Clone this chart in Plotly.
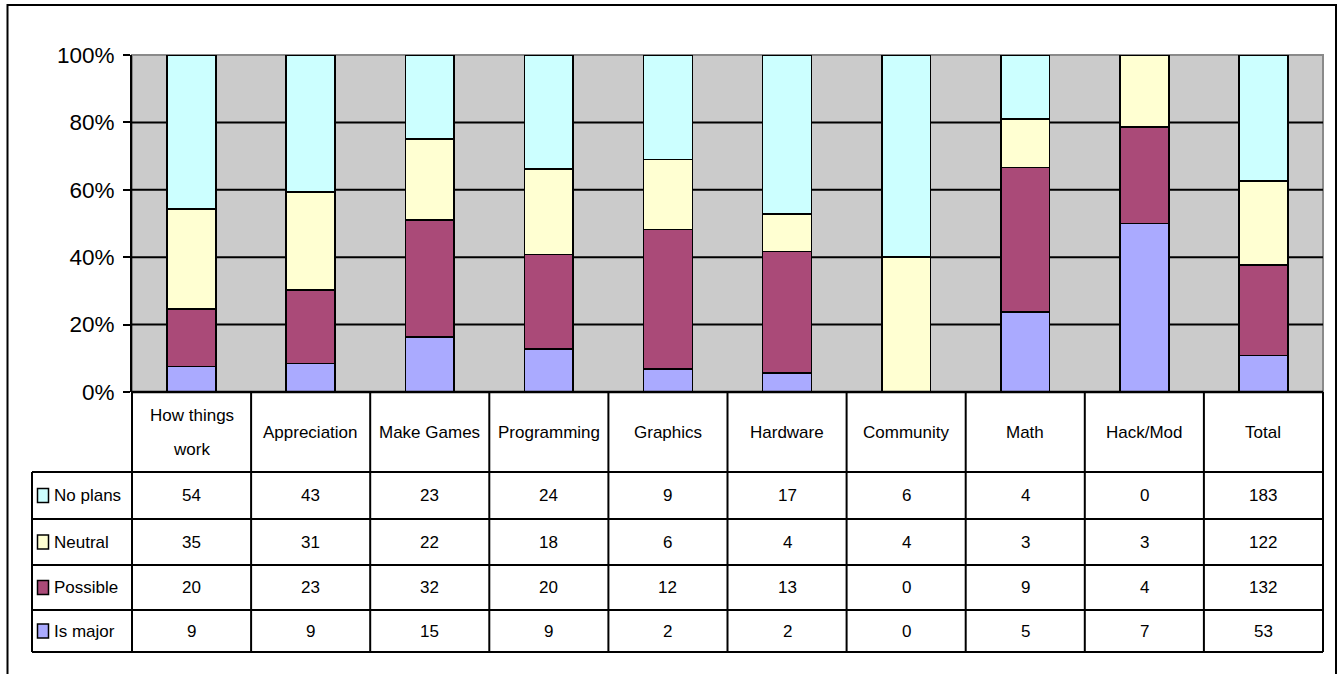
import plotly.graph_objects as go

categories = ["How things work", "Appreciation", "Make Games", "Programming", "Graphics",
              "Hardware", "Community", "Math", "Hack/Mod", "Total"]
header_labels = ["How things<br>work", "Appreciation", "Make Games", "Programming", "Graphics",
                 "Hardware", "Community", "Math", "Hack/Mod", "Total"]
series_names = ["No plans", "Neutral", "Possible", "Is major"]
no_plans = [54, 43, 23, 24, 9, 17, 6, 4, 0, 183]
neutral = [35, 31, 22, 18, 6, 4, 4, 3, 3, 122]
possible = [20, 23, 32, 20, 12, 13, 0, 9, 4, 132]
is_major = [9, 9, 15, 9, 2, 2, 0, 5, 7, 53]
y_ticks = [0, 20, 40, 60, 80, 100]

colors = {"No plans": "#CCFFFF", "Neutral": "#FFFFD2", "Possible": "#AA4A78", "Is major": "#AAAAFF"}
values = {"No plans": no_plans, "Neutral": neutral, "Possible": possible, "Is major": is_major}

W, H = 1338, 674
L, R, T, B = 132, 1323, 55, 392
FONT = "Liberation Sans, Arial"
TS = 17


def px_x(p):
    return (p - L) / (R - L)


def px_y(p):
    return (B - p) / (B - T)


fig = go.Figure()
for name in ["Is major", "Possible", "Neutral", "No plans"]:
    fig.add_trace(go.Bar(
        x=categories, y=values[name], name=name,
        marker=dict(color=colors[name], line=dict(color="black", width=1.6)),
        width=0.41, hoverinfo="skip",
    ))

shapes = []
shapes.append(dict(type="rect", xref="x domain", yref="y domain", x0=0, x1=1, y0=0, y1=1,
                   line=dict(color="#8a8a8a", width=2), layer="below"))
for v in y_ticks[1:-1]:
    shapes.append(dict(type="line", xref="x domain", yref="y", x0=0, x1=1, y0=v, y1=v,
                       line=dict(color="black", width=2), layer="below"))

# outer chart border
shapes.append(dict(type="rect", xref="paper", yref="paper",
                   x0=px_x(7.5), x1=px_x(1336), y0=px_y(700), y1=px_y(5),
                   line=dict(color="black", width=2), fillcolor="rgba(0,0,0,0)"))

n = len(categories)
row_lines = [472, 519, 565, 610, 652]
header_top = 392
left_edge = 32

shapes.append(dict(type="line", xref="paper", yref="paper", x0=0, x1=1,
                   y0=px_y(header_top), y1=px_y(header_top), line=dict(color="black", width=2.5)))
for yl in row_lines:
    shapes.append(dict(type="line", xref="paper", yref="paper", x0=px_x(left_edge), x1=1,
                       y0=px_y(yl), y1=px_y(yl), line=dict(color="black", width=2)))
for i in range(n + 1):
    xp = i / n
    shapes.append(dict(type="line", xref="paper", yref="paper", x0=xp, x1=xp,
                       y0=px_y(row_lines[-1]), y1=px_y(header_top), line=dict(color="black", width=2)))
shapes.append(dict(type="line", xref="paper", yref="paper", x0=px_x(left_edge), x1=px_x(left_edge),
                   y0=px_y(row_lines[-1]), y1=px_y(row_lines[0]), line=dict(color="black", width=2)))

annotations = []
header_center = (header_top + row_lines[0]) / 2
line_gap = 34
for i, lab in enumerate(header_labels):
    parts = lab.split("<br>")
    k = len(parts)
    for j, part in enumerate(parts):
        yc = header_center + (j - (k - 1) / 2) * line_gap
        annotations.append(dict(x=(i + 0.5) / n, y=px_y(yc), xref="paper", yref="paper",
                                text=part, showarrow=False,
                                font=dict(family=FONT, size=TS, color="black"),
                                xanchor="center", yanchor="middle"))

for r, name in enumerate(series_names):
    yc = (row_lines[r] + row_lines[r + 1]) / 2
    shapes.append(dict(type="rect", xref="paper", yref="paper",
                       x0=px_x(37.5), x1=px_x(48.5), y0=px_y(yc + 7), y1=px_y(yc - 7),
                       fillcolor=colors[name], line=dict(color="black", width=1.5)))
    annotations.append(dict(x=px_x(52), y=px_y(yc), xref="paper", yref="paper", text=name,
                            showarrow=False, font=dict(family=FONT, size=TS, color="black"),
                            xanchor="left", yanchor="middle"))
    for i, v in enumerate(values[name]):
        annotations.append(dict(x=(i + 0.5) / n, y=px_y(yc), xref="paper", yref="paper",
                                text=str(v), showarrow=False,
                                font=dict(family=FONT, size=TS, color="black"),
                                xanchor="center", yanchor="middle"))

fig.update_layout(
    width=W, height=H,
    margin=dict(l=L, r=W - R, t=T, b=H - B, pad=0),
    barmode="stack", barnorm="percent",
    plot_bgcolor="#CBCBCB", paper_bgcolor="white",
    showlegend=False,
    shapes=shapes, annotations=annotations,
    xaxis=dict(showticklabels=False, showgrid=False, zeroline=False, showline=False,
               ticks="", range=[-0.5, n - 0.5], fixedrange=True),
    yaxis=dict(range=[0, 100], tickvals=y_ticks, ticktext=[f"{v}%" for v in y_ticks],
               showgrid=False, zeroline=False, showline=True, linecolor="black", linewidth=2,
               ticks="outside", ticklen=7, tickwidth=1.5, tickcolor="black",
               ticklabelstandoff=4,
               tickfont=dict(family=FONT, size=22.5, color="black"), fixedrange=True),
    font=dict(family=FONT, color="black"),
)

fig.write_html("out.html", config={"displayModeBar": False},
               post_script="document.body.style.margin='0';")
